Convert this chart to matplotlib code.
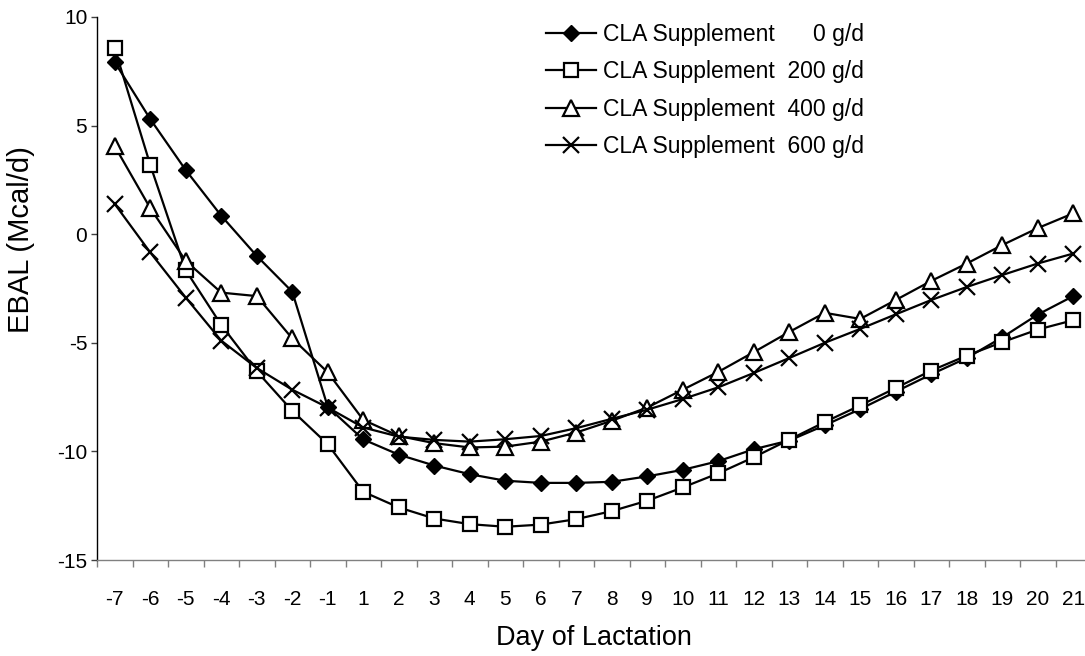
import matplotlib
matplotlib.use("Agg")
import matplotlib.pyplot as plt
import numpy as np

days = ["-7", "-6", "-5", "-4", "-3", "-2", "-1"] + [str(d) for d in range(1, 22)]

cla_0 = [7.92, 5.30, 2.95, 0.85, -1.00, -2.65, -7.95,
         -9.45, -10.15, -10.65, -11.05, -11.35, -11.45, -11.45, -11.40, -11.15, -10.85,
         -10.45, -9.90, -9.50, -8.80, -8.05, -7.25, -6.45, -5.70, -4.75, -3.70, -2.85]
cla_200 = [8.55, 3.19, -1.66, -4.18, -6.31, -8.13, -9.67,
           -11.86, -12.58, -13.09, -13.35, -13.47, -13.37, -13.12, -12.75, -12.27, -11.66,
           -11.01, -10.27, -9.46, -8.65, -7.88, -7.08, -6.28, -5.59, -4.97, -4.39, -3.96]
cla_400 = [4.05, 1.20, -1.23, -2.69, -2.85, -4.80, -6.36,
           -8.55, -9.29, -9.62, -9.82, -9.78, -9.55, -9.13, -8.59, -7.98, -7.16,
           -6.34, -5.43, -4.50, -3.62, -3.90, -3.03, -2.15, -1.35, -0.50, 0.28, 0.96]
cla_600 = [1.39, -0.84, -2.92, -4.90, -6.16, -7.16, -7.98,
           -8.90, -9.32, -9.47, -9.55, -9.44, -9.29, -8.93, -8.50, -8.08, -7.59,
           -7.05, -6.39, -5.70, -5.00, -4.36, -3.69, -3.03, -2.43, -1.88, -1.35, -0.89]

labels = ["CLA Supplement      0 g/d", "CLA Supplement  200 g/d",
          "CLA Supplement  400 g/d", "CLA Supplement  600 g/d"]
y_ticks = [-15, -10, -5, 0, 5, 10]

plt.rcParams['font.family'] = ['Liberation Sans', 'DejaVu Sans']

W, H = 1085, 656
fig = plt.figure(figsize=(W / 100, H / 100), dpi=100)
ax = fig.add_axes([97 / W, 1 - 560 / H, (1091 - 97) / W, (560 - 17) / H])

x = np.arange(len(days))
lw = 1.6
ax.plot(x, cla_0, color='black', lw=lw, marker='D', ms=8, mfc='black', mec='black', label=labels[0], zorder=3)
ax.plot(x, cla_200, color='black', lw=lw, marker='s', ms=10.5, mfc='white', mec='black', mew=1.6, label=labels[1], zorder=3)
ax.plot(x, cla_400, color='black', lw=lw, marker='^', ms=11, mfc='white', mec='black', mew=1.6, label=labels[2], zorder=3)
ax.plot(x, cla_600, color='black', lw=lw, marker='x', ms=11, mec='black', mew=1.6, label=labels[3], zorder=3)

ax.set_xlim(-0.5, len(days) - 0.5)
ax.set_ylim(-15, 10)
ax.set_yticks(y_ticks)
ax.set_yticklabels([str(v) for v in y_ticks], fontsize=15)
ax.set_xticks(x)
ax.set_xticklabels(days, fontsize=15)
ax.set_xticks(np.arange(len(days) + 1) - 0.5, minor=True)
ax.tick_params(axis='x', which='major', length=0, pad=21.5)
ax.tick_params(axis='x', which='minor', length=5, width=1, color='#808080', direction='out')
ax.tick_params(axis='y', which='major', length=4, width=1, color='#404040', pad=3, direction='out')

for s in ['top', 'right']:
    ax.spines[s].set_visible(False)
ax.spines['bottom'].set_color('#808080')
ax.spines['left'].set_color('black')
ax.spines['bottom'].set_linewidth(1)
ax.spines['left'].set_linewidth(1)

fig.text(594 / W, 1 - 645 / H, "Day of Lactation", ha='center', va='baseline', fontsize=19.5)
fig.text(21 / W, 1 - 240 / H, "EBAL (Mcal/d)", ha='center', va='center', rotation=90, fontsize=21)

leg = ax.legend(loc='upper left', bbox_to_anchor=(546 / W, 1 - 23 / H), bbox_transform=fig.transFigure,
                frameon=False, fontsize=16.5, handlelength=2.2, handletextpad=0.3,
                labelspacing=0.63, borderpad=0, borderaxespad=0)

fig.savefig("out.png", dpi=100)
